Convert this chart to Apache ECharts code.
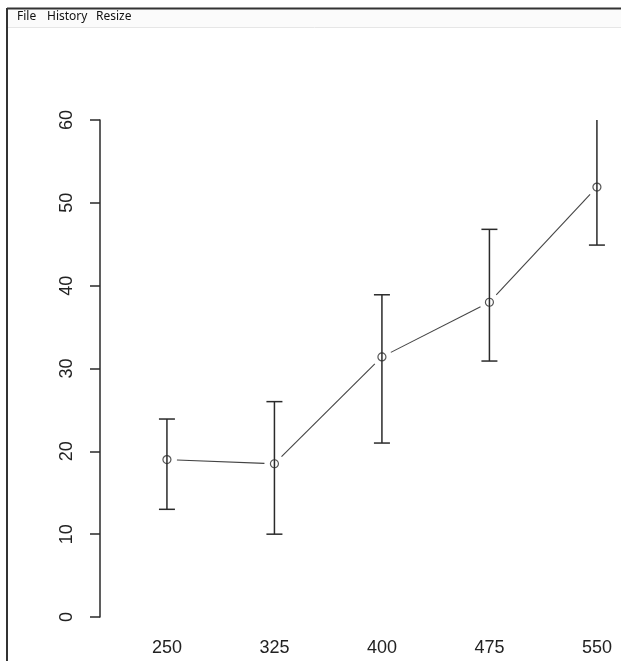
<!DOCTYPE html>
<html>
<head>
<meta charset="utf-8">
<script src="https://cdn.jsdelivr.net/npm/echarts@6/dist/echarts.min.js"></script>
<style>
  html, body { margin: 0; padding: 0; background: #ffffff; }
  #chart { width: 621px; height: 661px; }
</style>
</head>
<body>
<div id="chart"></div>
<script>
// Dose levels on the x axis
const doses = [250, 325, 400, 475, 550];
// Group means and the ends of their error bars
const means = [19.0, 18.5, 31.4, 38.0, 51.9];
const lower = [13.0, 10.0, 21.0, 30.9, 44.9];
const upper = [23.9, 26.0, 38.9, 46.8, 62.0];
// Y axis tick values
const yTicks = [0, 10, 20, 30, 40, 50, 60];

const ink = '#2a2a2a';
const labelFont = '"Liberation Sans", Arial, sans-serif';
const menuFont = '12px "Noto Sans", "DejaVu Sans", sans-serif';

const chart = echarts.init(document.getElementById('chart'), null, { renderer: 'canvas' });

const option = {
  animation: false,
  backgroundColor: '#ffffff',
  grid: { left: 100, right: 0, top: 120, bottom: 44 },
  xAxis: {
    type: 'value',
    min: 203.3,
    max: 566.8,
    axisLine: { show: false },
    axisTick: { show: false },
    splitLine: { show: false },
    axisLabel: {
      customValues: doses,
      fontSize: 18,
      color: '#222',
      fontFamily: labelFont,
      margin: 22
    }
  },
  yAxis: {
    type: 'value',
    min: yTicks[0],
    max: yTicks[yTicks.length - 1],
    interval: 10,
    axisLine: { show: true, lineStyle: { color: ink, width: 1.5 } },
    axisTick: { show: true, length: 10, lineStyle: { color: ink, width: 1.5 } },
    splitLine: { show: false },
    axisLabel: {
      rotate: 90,
      fontSize: 18,
      color: '#222',
      fontFamily: labelFont,
      margin: 24
    }
  },
  graphic: [
    // plot window frame and menu bar
    { type: 'rect', shape: { x: 8, y: 9, width: 613, height: 18 }, style: { fill: '#fbfbfb' }, silent: true },
    { type: 'line', shape: { x1: 7, y1: 8.5, x2: 621, y2: 8.5 }, style: { stroke: '#333', lineWidth: 2 }, silent: true },
    { type: 'line', shape: { x1: 7, y1: 8, x2: 7, y2: 661 }, style: { stroke: '#333', lineWidth: 2 }, silent: true },
    { type: 'line', shape: { x1: 8, y1: 27.5, x2: 621, y2: 27.5 }, style: { stroke: '#e6e6e6', lineWidth: 1 }, silent: true },
    { type: 'text', left: 17, top: 11, style: { text: 'File', font: menuFont, fill: '#111' }, silent: true },
    { type: 'text', left: 47, top: 11, style: { text: 'History', font: menuFont, fill: '#111' }, silent: true },
    { type: 'text', left: 96, top: 11, style: { text: 'Resize', font: menuFont, fill: '#111' }, silent: true }
  ],
  series: [
    {
      // connecting line, broken short of each point marker
      type: 'custom',
      clip: true,
      data: doses.map((d, i) => [d, means[i]]),
      encode: { x: 0, y: 1 },
      renderItem: function (params, api) {
        const i = params.dataIndex;
        if (i >= doses.length - 1) return null;
        const a = api.coord([api.value(0), api.value(1)]);
        const b = api.coord([doses[i + 1], means[i + 1]]);
        const dx = b[0] - a[0], dy = b[1] - a[1];
        const len = Math.sqrt(dx * dx + dy * dy);
        const gap = 10;
        const ux = dx / len, uy = dy / len;
        return {
          type: 'line',
          shape: {
            x1: a[0] + ux * gap, y1: a[1] + uy * gap,
            x2: b[0] - ux * gap, y2: b[1] - uy * gap
          },
          style: { stroke: '#444', lineWidth: 1.1 }
        };
      },
      z: 2
    },
    {
      // error bars with caps
      type: 'custom',
      clip: true,
      data: doses.map((d, i) => [d, lower[i], upper[i]]),
      encode: { x: 0, y: [1, 2] },
      renderItem: function (params, api) {
        const x = api.value(0);
        const lo = api.coord([x, api.value(1)]);
        const hi = api.coord([x, api.value(2)]);
        const hw = 8;
        const st = { stroke: ink, lineWidth: 1.5 };
        return {
          type: 'group',
          children: [
            { type: 'line', shape: { x1: lo[0], y1: lo[1], x2: hi[0], y2: hi[1] }, style: st },
            { type: 'line', shape: { x1: lo[0] - hw, y1: lo[1], x2: lo[0] + hw, y2: lo[1] }, style: st },
            { type: 'line', shape: { x1: hi[0] - hw, y1: hi[1], x2: hi[0] + hw, y2: hi[1] }, style: st }
          ]
        };
      },
      z: 3
    },
    {
      type: 'scatter',
      data: doses.map((d, i) => [d, means[i]]),
      symbol: 'circle',
      symbolSize: 8,
      itemStyle: { color: 'rgba(255,255,255,0)', borderColor: ink, borderWidth: 1.2 },
      z: 4
    }
  ]
};

chart.setOption(option);
</script>
</body>
</html>
